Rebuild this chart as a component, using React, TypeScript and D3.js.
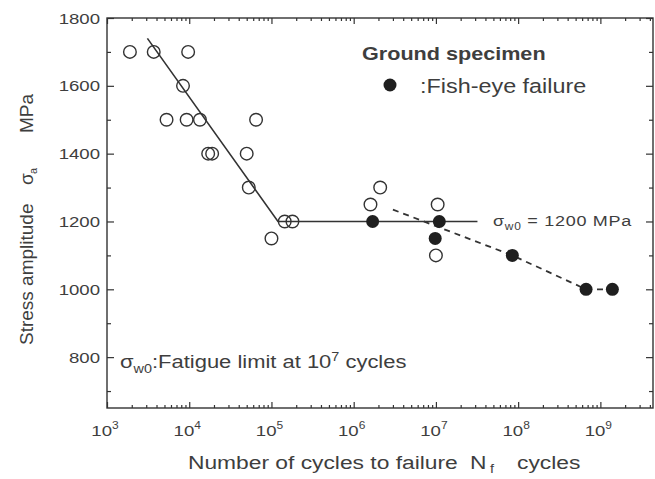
import React, { useEffect, useRef } from 'react';
import * as d3 from 'd3';

// open circles: ordinary failure
const openCycles = [1.9e3, 3.7e3, 9.7e3, 8.4e3, 5.3e3, 9.3e3, 1.35e4, 1.7e4, 1.9e4, 6.5e4, 5.0e4, 5.3e4, 1.0e5, 1.45e5, 1.8e5, 2.1e6, 1.6e6, 1.05e7, 1.0e7];
const openStress = [1700, 1700, 1700, 1600, 1500, 1500, 1500, 1400, 1400, 1500, 1400, 1300, 1150, 1200, 1200, 1300, 1250, 1250, 1100];

// filled circles: fish-eye failure
const fishCycles = [1.7e6, 1.1e7, 9.8e6, 8.5e7, 6.7e8, 1.4e9];
const fishStress = [1200, 1200, 1150, 1100, 1000, 1000];

// solid S-N curve
const fitCycles = [3.1e3, 1.2e5, 3.2e7];
const fitStress = [1740, 1200, 1200];

// dashed trend for fish-eye
const trendCycles = [3e6, 8.5e7, 6.7e8, 1.4e9];
const trendStress = [1235, 1100, 1000, 1000];

const xExponents = [3, 4, 5, 6, 7, 8, 9];
const yTicks = [800, 1000, 1200, 1400, 1600, 1800];
const yMinorTicks = [700, 900, 1100, 1300, 1500, 1700];

const W = 655;
const H = 479;
const SX = 1.2; // horizontal stretch of the lettering
const INK = '#3e3e3e';
const FONT = '"Liberation Sans", Arial, sans-serif';

export default function App() {
  const svgRef = useRef<SVGSVGElement>(null);

  useEffect(() => {
    if (!svgRef.current) return;
    const svg = d3.select(svgRef.current);
    svg.selectAll('*').remove();

    const x = d3.scaleLog().domain([1e3, Math.pow(10, 9.64)]).range([107, 653]);
    const y = d3.scaleLinear().domain([650, 1800]).range([408, 18]);
    const [x0, x1] = x.range();
    const [y0, y1] = y.range();

    svg.append('rect').attr('width', W).attr('height', H).attr('fill', '#ffffff');

    // stretched text helper
    const label = (px: number, py: number, size: number, anchor = 'start', weight = 'normal') =>
      svg.append('g')
        .attr('transform', `translate(${px},${py}) scale(${SX},1)`)
        .append('text')
        .attr('text-anchor', anchor)
        .attr('font-family', FONT)
        .attr('font-size', size)
        .attr('font-weight', weight)
        .attr('fill', INK);

    // minor x ticks
    const minor: number[] = [];
    xExponents.forEach(e => {
      for (let m = 2; m <= 9; m++) {
        const v = m * Math.pow(10, e);
        if (v < x.domain()[1]) minor.push(v);
      }
    });
    const major = xExponents.map(e => Math.pow(10, e));

    const tickStyle = (g: d3.Selection<SVGGElement, unknown, null, undefined>) => {
      g.select('.domain').remove();
      g.selectAll('line').attr('stroke', '#333').attr('stroke-width', 1.2);
      g.selectAll('text').remove();
    };

    // bottom / top ticks (inward)
    svg.append('g').attr('transform', `translate(0,${y0})`)
      .call(d3.axisBottom(x).tickValues(major).tickSizeInner(-6).tickSizeOuter(0)).call(tickStyle);
    svg.append('g').attr('transform', `translate(0,${y0})`)
      .call(d3.axisBottom(x).tickValues(minor).tickSizeInner(-3).tickSizeOuter(0)).call(tickStyle);
    svg.append('g').attr('transform', `translate(0,${y1})`)
      .call(d3.axisTop(x).tickValues(major).tickSizeInner(-6).tickSizeOuter(0)).call(tickStyle);
    svg.append('g').attr('transform', `translate(0,${y1})`)
      .call(d3.axisTop(x).tickValues(minor).tickSizeInner(-3).tickSizeOuter(0)).call(tickStyle);

    // left / right ticks (inward)
    svg.append('g').attr('transform', `translate(${x0},0)`)
      .call(d3.axisLeft(y).tickValues(yTicks).tickSizeInner(-7).tickSizeOuter(0)).call(tickStyle);
    svg.append('g').attr('transform', `translate(${x0},0)`)
      .call(d3.axisLeft(y).tickValues(yMinorTicks).tickSizeInner(-4).tickSizeOuter(0)).call(tickStyle);
    svg.append('g').attr('transform', `translate(${x1},0)`)
      .call(d3.axisRight(y).tickValues(yTicks).tickSizeInner(-7).tickSizeOuter(0)).call(tickStyle);
    svg.append('g').attr('transform', `translate(${x1},0)`)
      .call(d3.axisRight(y).tickValues(yMinorTicks).tickSizeInner(-4).tickSizeOuter(0)).call(tickStyle);

    // frame
    svg.append('rect')
      .attr('x', x0).attr('y', y1)
      .attr('width', x1 - x0).attr('height', y0 - y1)
      .attr('fill', 'none').attr('stroke', '#333').attr('stroke-width', 1.4);

    // y tick labels
    yTicks.forEach(v => {
      label(x0 - 7, y(v) + 5.5, 15.5, 'end').text(v);
    });

    // x tick labels 10^n
    xExponents.forEach(e => {
      const t = label(x(Math.pow(10, e)) - 2, 436, 15.5, 'middle');
      t.append('tspan').text('10');
      t.append('tspan').attr('font-size', 10).attr('dy', -7).text(e);
    });

    // axis titles
    label(188, 469, 19).text('Number of cycles to failure');
    label(470, 469, 19).text('N');
    label(490, 473, 12).text('f');
    label(517, 469, 19).text('cycles');

    const yl = svg.append('g').attr('transform', 'translate(33,345) rotate(-90)');
    const ytxt = (lx: number, ly: number, size: number, s: string) =>
      yl.append('text').attr('x', lx).attr('y', ly)
        .attr('font-family', FONT).attr('font-size', size).attr('fill', INK).text(s);
    ytxt(0, 0, 19, 'Stress amplitude');
    ytxt(160, 0, 19, '\u03c3');
    ytxt(171, 4, 11, 'a');
    ytxt(212, 0, 19, 'MPa');

    // curves
    const line = d3.line<[number, number]>().x(d => x(d[0])).y(d => y(d[1]));
    svg.append('path')
      .attr('d', line(fitCycles.map((c, i) => [c, fitStress[i]] as [number, number])))
      .attr('fill', 'none').attr('stroke', '#333').attr('stroke-width', 1.6);
    svg.append('path')
      .attr('d', line(trendCycles.map((c, i) => [c, trendStress[i]] as [number, number])))
      .attr('fill', 'none').attr('stroke', '#333').attr('stroke-width', 1.8)
      .attr('stroke-dasharray', '6,5');

    // points
    svg.append('g').selectAll('circle')
      .data(openCycles.map((c, i) => [c, openStress[i]]))
      .enter().append('circle')
      .attr('cx', d => x(d[0])).attr('cy', d => y(d[1])).attr('r', 6.3)
      .attr('fill', 'none').attr('stroke', '#333').attr('stroke-width', 1.4);
    svg.append('g').selectAll('circle')
      .data(fishCycles.map((c, i) => [c, fishStress[i]]))
      .enter().append('circle')
      .attr('cx', d => x(d[0])).attr('cy', d => y(d[1])).attr('r', 6.5)
      .attr('fill', '#1f1f1f');

    // legend
    label(362, 60, 18, 'start', 'bold').text('Ground specimen');
    svg.append('circle').attr('cx', 390).attr('cy', 85).attr('r', 6.5).attr('fill', '#1f1f1f');
    label(420, 93, 19.5).text(':Fish-eye failure');

    // fatigue limit annotation
    const ann = label(493, 226, 15).attr('letter-spacing', 0.6);
    ann.append('tspan').text('\u03c3');
    ann.append('tspan').attr('font-size', 10).attr('dy', 4).text('w0');
    ann.append('tspan').attr('dy', -4).text(' = 1200 MPa');

    const note = label(120, 368, 18.3);
    note.append('tspan').text('\u03c3');
    note.append('tspan').attr('font-size', 12).attr('dy', 5).text('w0');
    note.append('tspan').attr('dy', -5).text(':Fatigue limit at 10');
    note.append('tspan').attr('font-size', 12).attr('dy', -7).text('7');
    note.append('tspan').attr('dy', 7).text(' cycles');
  }, []);

  return (
    <svg
      ref={svgRef}
      width={W}
      height={H}
      style={{ position: 'absolute', left: 0, top: 0 }}
    />
  );
}
